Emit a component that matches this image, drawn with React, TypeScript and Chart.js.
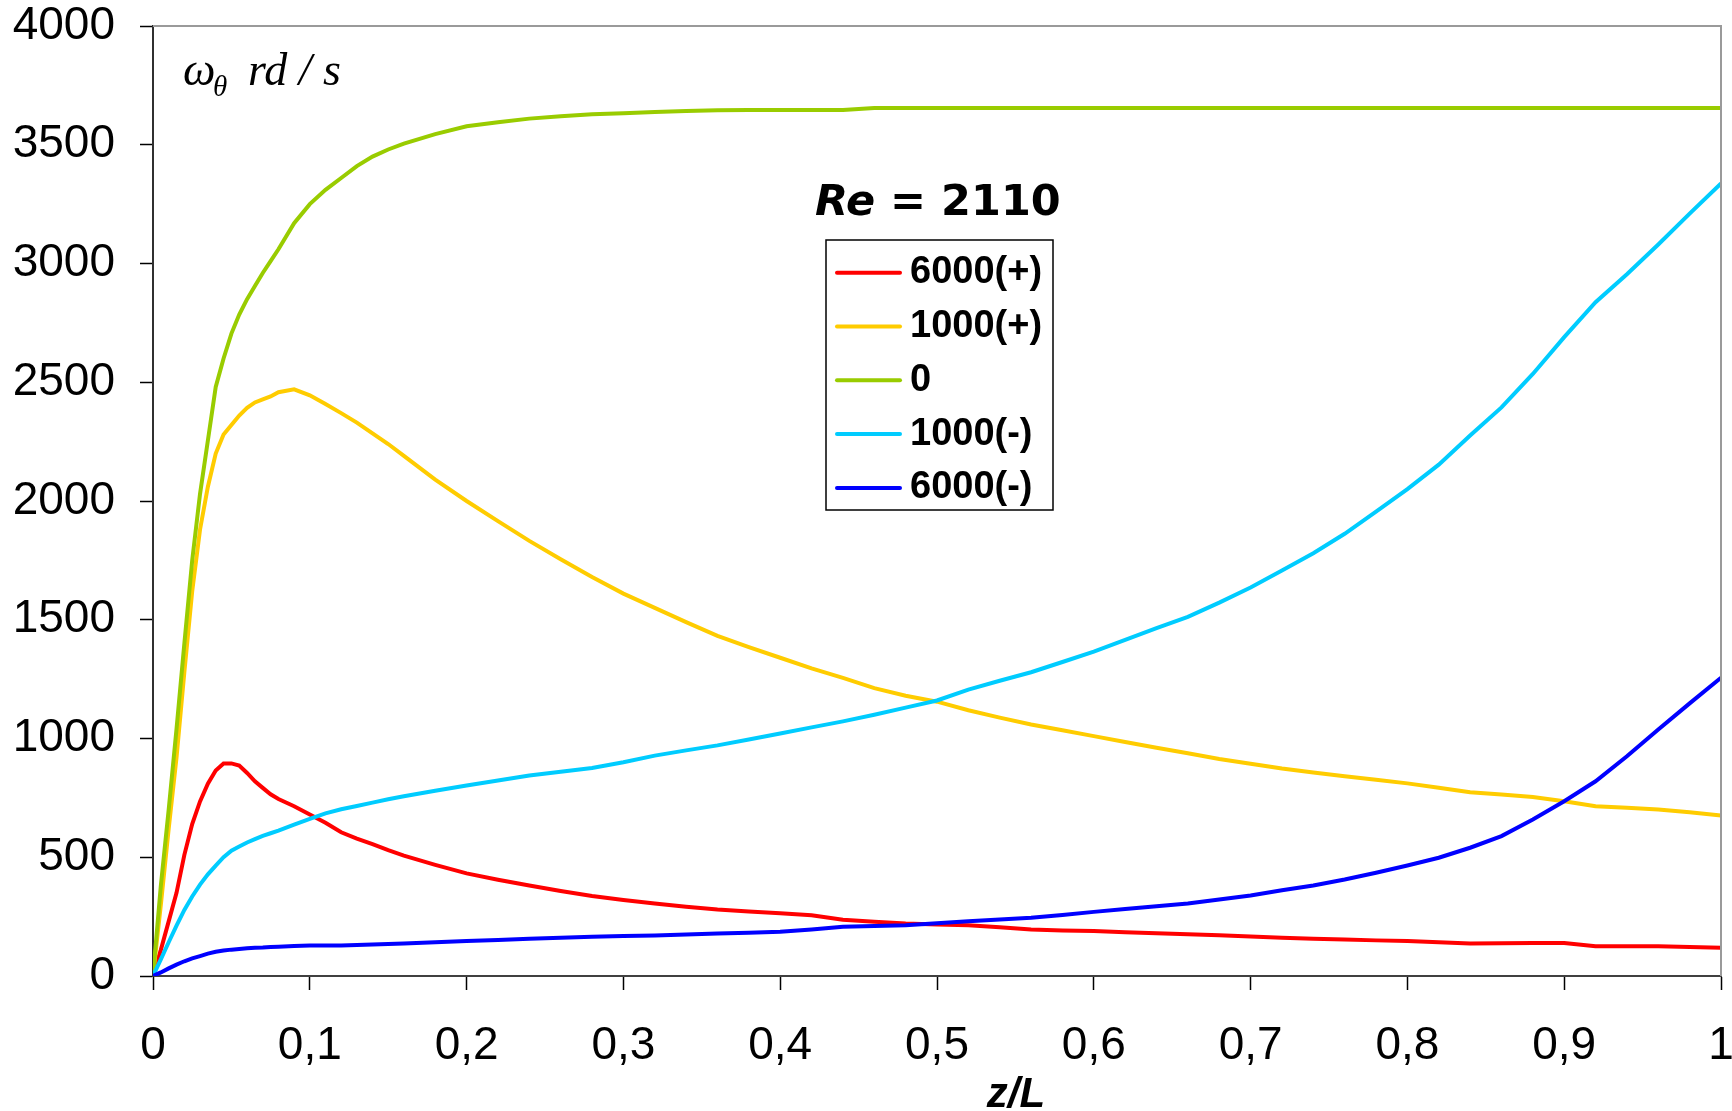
import React, { useEffect, useRef } from "react";
import { Chart, registerables } from "chart.js";

Chart.register(...registerables);

// Axial position z/L shared by every series
const zPositions = [
  0, 0.005, 0.01, 0.015, 0.02, 0.025, 0.03, 0.035, 0.04, 0.045, 0.05, 0.055, 0.06, 0.065, 0.07, 0.075, 0.08,
  0.09, 0.1, 0.11, 0.12, 0.13, 0.14, 0.15, 0.16,
  0.18, 0.2, 0.22, 0.24, 0.26, 0.28, 0.3, 0.32, 0.34, 0.36, 0.38, 0.4, 0.42, 0.44, 0.46, 0.48, 0.5,
  0.52, 0.54, 0.56, 0.58, 0.6, 0.62, 0.64, 0.66, 0.68, 0.7, 0.72, 0.74, 0.76, 0.78, 0.8,
  0.82, 0.84, 0.86, 0.88, 0.9, 0.92, 0.94, 0.96, 0.98, 1.0,
];

// Angular velocity ω_θ (rd/s) for each rotation case
const omega6000Plus = [
  0, 110, 230, 350, 510, 640, 735, 810, 865, 895, 895, 886, 855, 820, 792, 765, 745,
  715, 680, 645, 605, 578, 555, 530, 507,
  468, 432, 405, 381, 358, 337, 320, 305, 292, 280, 272, 264, 256, 237, 228, 221, 217,
  214, 205, 196, 192, 189, 184, 180, 176, 172, 166, 161, 157, 154, 150, 147,
  142, 137, 138, 139, 139, 125, 125, 125, 122, 119,
];

const omega1000Plus = [
  0, 300, 620, 920, 1280, 1620, 1880, 2060, 2200, 2280, 2320, 2360, 2392, 2415, 2428, 2440, 2458,
  2470, 2445, 2408, 2370, 2330, 2285, 2240, 2190,
  2090, 2000, 1915, 1832, 1755, 1680, 1610, 1550, 1490, 1432, 1385, 1340, 1295, 1255, 1212, 1180, 1155,
  1119, 1088, 1059, 1035, 1010, 985, 961, 938, 914, 894, 874, 857, 841, 826, 811,
  793, 774, 764, 754, 736, 715, 708, 701, 689, 676,
];

const omega0 = [
  0, 380, 700, 1040, 1400, 1750, 2030, 2255, 2480, 2600, 2705, 2785, 2850, 2905, 2960, 3010, 3060,
  3170, 3250, 3310, 3360, 3410, 3450, 3480, 3505,
  3545, 3578, 3595, 3610, 3620, 3628, 3633, 3638, 3642, 3645, 3646, 3646, 3646, 3646, 3655, 3655, 3655,
  3655, 3655, 3655, 3655, 3655, 3655, 3655, 3655, 3655, 3655, 3655, 3655, 3655, 3655, 3655,
  3655, 3655, 3655, 3655, 3655, 3655, 3655, 3655, 3655, 3655,
];

const omega1000Minus = [
  0, 70, 142, 212, 278, 335, 385, 428, 465, 500, 528, 545, 562, 576, 590, 601, 612,
  637, 662, 685, 702, 716, 730, 744, 757,
  780, 802, 823, 844, 860, 876, 900, 928, 950, 971, 996, 1021, 1047, 1072, 1100, 1130, 1160,
  1206, 1243, 1279, 1322, 1366, 1415, 1465, 1512, 1572, 1636, 1707, 1780, 1862, 1955, 2050,
  2153, 2276, 2394, 2535, 2690, 2837, 2955, 3080, 3210, 3337,
];

const omega6000Minus = [
  0, 15, 32, 48, 62, 74, 84, 94, 102, 107, 111, 114, 117, 119, 120, 122, 123,
  126, 128, 128, 128, 131, 133, 135, 137,
  142, 147, 152, 157, 161, 165, 168, 171, 175, 179, 182, 186, 196, 207, 211, 214, 222,
  231, 238, 245, 257, 270, 282, 294, 305, 322, 339, 361, 381, 406, 435, 465,
  498, 540, 589, 659, 736, 820, 925, 1038, 1148, 1256,
];

const seriesLabels = ["6000(+)", "1000(+)", "0", "1000(-)", "6000(-)"];
const seriesColors = ["#ff0000", "#ffcc00", "#99cc00", "#00ccff", "#0000ff"];
const seriesValues = [omega6000Plus, omega1000Plus, omega0, omega1000Minus, omega6000Minus];

const reynoldsLabel = "2110";
const xAxisTitle = "z/L";

const formatZ = (v: number) => {
  if (v === 0) return "0";
  if (Math.abs(v - 1) < 1e-9) return "1";
  return v.toFixed(1).replace(".", ",");
};

const annotationPlugin = {
  id: "annotations",
  afterDraw(chart: any) {
    const { ctx, chartArea } = chart;
    const { left, right, top, bottom } = chartArea;
    ctx.save();

    // top and right frame of the plot area
    ctx.strokeStyle = "#9a9a9a";
    ctx.lineWidth = 2;
    ctx.beginPath();
    ctx.moveTo(left, top);
    ctx.lineTo(right, top);
    ctx.lineTo(right, bottom);
    ctx.stroke();

    // quantity label inside the plot: ω_θ rd / s
    ctx.fillStyle = "#000";
    ctx.textBaseline = "alphabetic";
    ctx.textAlign = "left";
    ctx.font = 'italic 46px "Liberation Serif", "Times New Roman", serif';
    ctx.fillText("ω", left + 30, top + 59);
    ctx.font = 'italic 29px "Liberation Serif", "Times New Roman", serif';
    ctx.fillText("θ", left + 60, top + 70);
    ctx.font = 'italic 46px "Liberation Serif", "Times New Roman", serif';
    ctx.fillText("rd / s", left + 95, top + 59);

    // Reynolds number header
    const reX = 815;
    const reY = 215;
    ctx.font = 'italic bold 43px "DejaVu Sans", sans-serif';
    ctx.fillText("Re", reX, reY);
    const reW = ctx.measureText("Re").width;
    ctx.font = 'bold 43px "DejaVu Sans", sans-serif';
    ctx.fillText(" = " + reynoldsLabel, reX + reW, reY);

    // legend box
    const boxX = 826;
    const boxY = 240;
    const boxW = 227;
    const boxH = 270;
    ctx.fillStyle = "#fff";
    ctx.fillRect(boxX, boxY, boxW, boxH);
    ctx.strokeStyle = "#000";
    ctx.lineWidth = 1.5;
    ctx.strokeRect(boxX, boxY, boxW, boxH);
    const rowGap = 53.8;
    ctx.font = 'bold 38px "Liberation Sans", Arial, sans-serif';
    chart.data.datasets.forEach((ds: any, i: number) => {
      const cy = boxY + 32.7 + i * rowGap;
      ctx.strokeStyle = ds.borderColor;
      ctx.lineWidth = 4;
      ctx.lineCap = "round";
      ctx.beginPath();
      ctx.moveTo(boxX + 11, cy);
      ctx.lineTo(boxX + 74, cy);
      ctx.stroke();
      ctx.fillStyle = "#000";
      ctx.textBaseline = "middle";
      ctx.fillText(ds.label, boxX + 84, cy);
    });

    // x axis title
    ctx.textBaseline = "alphabetic";
    ctx.textAlign = "center";
    ctx.font = 'italic bold 42px "Liberation Sans", Arial, sans-serif';
    ctx.fillText(xAxisTitle, 1016, 1107);

    ctx.restore();
  },
};

export default function App() {
  const canvasRef = useRef<HTMLCanvasElement | null>(null);

  useEffect(() => {
    document.body.style.margin = "0";
    const canvas = canvasRef.current;
    if (!canvas) return;

    const datasets = seriesLabels.map((label, i) => ({
      label,
      data: zPositions.map((z, k) => ({ x: z, y: seriesValues[i][k] })),
      borderColor: seriesColors[i],
      backgroundColor: seriesColors[i],
      borderWidth: 4,
      pointRadius: 0,
      tension: 0,
      fill: false,
      order: seriesLabels.length - i,
    }));

    const tickFont = { family: '"Liberation Sans", Arial, sans-serif', size: 46 };

    const chart = new Chart(canvas, {
      type: "line",
      data: { datasets },
      options: {
        responsive: false,
        animation: false,
        devicePixelRatio: 1,
        events: [],
        layout: { padding: { top: 26, right: 11, bottom: 0, left: 0 } },
        plugins: {
          legend: { display: false },
          tooltip: { enabled: false },
          title: { display: false },
        },
        scales: {
          x: {
            type: "linear",
            position: "bottom",
            min: 0,
            max: 1,
            ticks: {
              stepSize: 0.1,
              color: "#000",
              font: tickFont,
              padding: 29,
              maxRotation: 0,
              autoSkip: false,
              callback: (v: any) => formatZ(Number(v)),
            },
            grid: {
              drawOnChartArea: false,
              drawTicks: true,
              tickLength: 14,
              tickColor: "#000",
              tickWidth: 1.5,
            },
            border: { display: true, color: "#404040", width: 2 },
            afterFit: (scale: any) => {
              scale.height = 135;
              scale.paddingLeft = 0;
              scale.paddingRight = 0;
            },
          },
          y: {
            type: "linear",
            min: 0,
            max: 4000,
            ticks: {
              stepSize: 500,
              color: "#000",
              font: tickFont,
              padding: 25,
              callback: (v: any) => String(v),
            },
            grid: {
              drawOnChartArea: false,
              drawTicks: true,
              tickLength: 13,
              tickColor: "#000",
              tickWidth: 1.5,
            },
            border: { display: true, color: "#303030", width: 2 },
            afterFit: (scale: any) => {
              scale.width = 153;
              scale.paddingTop = 0;
              scale.paddingBottom = 0;
            },
          },
        },
      },
      plugins: [annotationPlugin],
    } as any);

    return () => chart.destroy();
  }, []);

  return (
    <div style={{ width: 1732, height: 1111, background: "#fff" }}>
      <canvas ref={canvasRef} width={1732} height={1111} style={{ display: "block" }} />
    </div>
  );
}
